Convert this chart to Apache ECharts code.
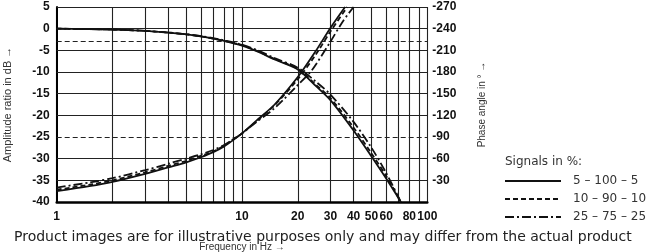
<!DOCTYPE html>
<html><head><meta charset="utf-8">
<script src="https://cdn.jsdelivr.net/npm/echarts@6/dist/echarts.min.js"></script>
<style>html,body{margin:0;padding:0;background:#fff}#c{width:647px;height:252px}</style>
</head><body><div id="c"></div>
<script>
// ---- data ----
const xGridValues = [1,2,3,4,5,6,7,8,9,10,20,30,40,50,60,70,80,90,100];
const xLabelValues = [1,10,20,30,40,50,60,80,100];
const hGridSolid = [5,0,-5,-10,-15,-20,-30,-35];
const hGridDashed = [-3,-25];
const seriesNames = ['5 – 100 – 5','10 – 90 – 10','25 – 75 – 25'];

const ampFreq     = [1, 2, 3, 4, 5, 6, 7, 8, 10, 12, 15, 20, 25, 30, 40, 50, 60, 72];
const ampSolid    = [0,-0.2,-0.5,-0.9,-1.3,-1.8,-2.3,-2.8,-3.9,-5.2,-7.1,-9.4,-13.2,-16.5,-23.5,-29.5,-34.6,-40];
const ampDashed   = [0,-0.2,-0.5,-0.9,-1.3,-1.8,-2.3,-2.8,-3.8,-5.1,-7.0,-9.3,-12.9,-16.0,-22.8,-28.8,-34.0,-40];
const ampDashDot  = [0,-0.2,-0.5,-0.9,-1.3,-1.7,-2.2,-2.7,-3.7,-4.9,-6.8,-9.0,-12.2,-15.2,-21.5,-27.5,-33.3,-40];

const phSolidFreq   = [1, 1.5, 2, 3, 4, 5, 6, 7, 8, 9, 10, 12, 15, 20, 25, 30, 36];
const phSolid       = [-15,-22,-28,-39,-48,-55,-62,-69,-77,-86,-95,-113,-135,-173,-209,-241,-270];
const phDashedFreq  = [1, 1.5, 2, 3, 4, 5, 6, 7, 8, 9, 10, 12, 15, 20, 25, 30, 37];
const phDashed      = [-17,-24,-30,-41,-50,-57,-64,-70,-78,-87,-95,-112,-134,-170,-204,-236,-270];
const phDashDotFreq = [1, 1.5, 2, 3, 4, 5, 6, 7, 8, 9, 10, 12, 15, 20, 23.4, 25, 30, 35, 40];
const phDashDot     = [-20,-27,-33,-44,-53,-60,-66,-72,-79,-87,-95,-111,-130,-162,-180,-190,-222,-250,-270];

// ---- build ----
const pairs = (xs, ys) => xs.map((x, i) => [x, ys[i]]);
const styles = [
  {type: 'solid'},
  {type: [5, 3]},
  {type: [9, 3, 2, 3]}
];
const lineBase = (name, data, yIdx, st) => ({
  name, type: 'line', data, yAxisIndex: yIdx, symbol: 'none', smooth: 0.3, color: '#111',
  lineStyle: {color: '#111', width: 1.8, type: st.type}, z: 5, silent: true
});

const markData = hGridSolid.map(v => ({yAxis: v, lineStyle: {type: 'solid', color: '#222', width: 1}}))
  .concat(hGridDashed.map(v => ({yAxis: v, lineStyle: {type: [5, 3], color: '#222', width: 1}})));

const series = [
  lineBase(seriesNames[0], pairs(ampFreq, ampSolid), 0, styles[0]),
  lineBase(seriesNames[1], pairs(ampFreq, ampDashed), 0, styles[1]),
  lineBase(seriesNames[2], pairs(ampFreq, ampDashDot), 0, styles[2]),
  lineBase(seriesNames[0], pairs(phSolidFreq, phSolid), 1, styles[0]),
  lineBase(seriesNames[1], pairs(phDashedFreq, phDashed), 1, styles[1]),
  lineBase(seriesNames[2], pairs(phDashDotFreq, phDashDot), 1, styles[2])
];
series[0].markLine = {silent: true, symbol: ['none','none'], label: {show: false}, animation: false, data: markData, z: 1};

const labelFont = {fontFamily: 'Liberation Sans', fontWeight: 'bold', fontSize: 12, color: '#111'};

const option = {
  animation: false,
  backgroundColor: '#fff',
  grid: {left: 56.7, right: 219.7, top: 7, bottom: 50, containLabel: false, outerBoundsMode: 'none'},
  xAxis: {
    type: 'log', logBase: 10, min: 1, max: 100,
    name: 'Frequency in Hz →', nameLocation: 'middle', nameGap: 40,
    nameTextStyle: {fontFamily: 'Liberation Sans', fontSize: 10, color: '#333'},
    axisLine: {show: true, onZero: false, lineStyle: {color: '#000', width: 2.5}},
    axisTick: {show: false, customValues: xGridValues},
    axisLabel: Object.assign({margin: 9, customValues: xLabelValues}, labelFont),
    splitLine: {show: true, lineStyle: {color: '#222', width: 1.1}},
    minorSplitLine: {show: false}
  },
  yAxis: [{
    type: 'value', min: -40, max: 5, interval: 5, position: 'left',
    name: 'Amplitude ratio in dB →', nameLocation: 'middle', nameGap: 43,
    nameTextStyle: {fontFamily: 'Liberation Sans', fontSize: 11, color: '#333'},
    axisLine: {show: true, onZero: false, lineStyle: {color: '#000', width: 2}},
    axisTick: {show: false},
    axisLabel: Object.assign({margin: 7}, labelFont),
    splitLine: {show: false}
  }, {
    type: 'value', min: -270, max: 0, interval: 30, inverse: true, position: 'right',
    name: 'Phase angle in ° →', nameLocation: 'middle', nameGap: 50,
    nameTextStyle: {fontFamily: 'Liberation Sans', fontSize: 10, color: '#333'},
    axisLine: {show: false},
    axisTick: {show: false},
    axisLabel: Object.assign({margin: 5, formatter: v => (v === 0 ? '' : String(v))}, labelFont),
    splitLine: {show: false}
  }],
  legend: {
    data: seriesNames, orient: 'vertical', left: 499, top: 170,
    itemWidth: 56, itemHeight: 10, itemGap: 6, selectedMode: false,
    itemStyle: {opacity: 0},
    textStyle: {fontFamily: 'DejaVu Sans', fontSize: 12, color: '#333', padding: [0, 0, 0, 7]}
  },
  graphic: [
    {type: 'text', left: 505, top: 156, silent: true,
     style: {text: 'Signals in %:', font: '12px "DejaVu Sans"', fill: '#333'}},
    {type: 'text', left: 14, top: 230, z: 100, silent: true,
     style: {text: 'Product images are for illustrative purposes only and may differ from the actual product', font: '14px "DejaVu Sans"', fill: '#222'}}
  ],
  series
};
const chart = echarts.init(document.getElementById('c'), null, {renderer: 'canvas'});
chart.setOption(option);
</script></body></html>
